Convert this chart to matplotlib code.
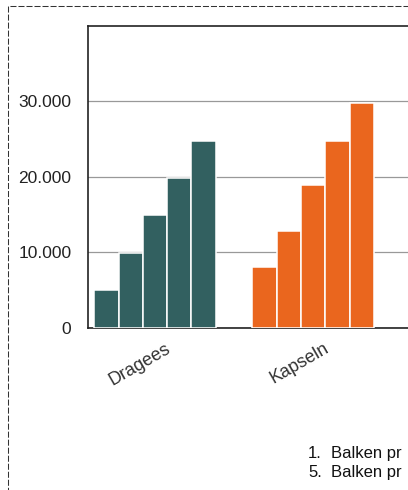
import numpy as np
import matplotlib
matplotlib.use('Agg')
from matplotlib import pyplot as plt
from matplotlib import patches
from matplotlib.ticker import FuncFormatter
from matplotlib.transforms import ScaledTranslation

plt.rcParams['font.family'] = ['Liberation Sans', 'DejaVu Sans']

#data
categories = ['Dragees', 'Kapseln']
dragees = [5000, 9900, 14900, 19900, 24800]
kapseln = [8000, 12800, 18900, 24800, 29800]
yticks = [0, 10000, 20000, 30000]
#footnotes, only the visible part (the reference is cropped at the right)
note_nums = ['1.', '5.']
note_texts = ['Balken pr', 'Balken pr']

colors = ['#326060', '#ea661e']

fig = plt.figure(figsize=(4.08, 4.9), dpi=100)
#axes run past the right edge of the picture (the reference is cropped)
ax = fig.add_axes([88/408, 162.5/490, 450/408, 301.5/490])

slot = 0.1535
for i, vals in enumerate([dragees, kapseln]):
    xs = i + (np.arange(len(vals)) - 2)*slot
    ax.bar(xs, vals, width=slot, color=colors[i], edgecolor='white',
           linewidth=1.1, zorder=3)

ax.set_xlim(-0.423, 2.42)
ax.set_ylim(0, 40000)
ax.set_yticks(yticks)
ax.yaxis.set_major_formatter(FuncFormatter(lambda v, p: f'{v:,.0f}'.replace(',', '.')))
ax.tick_params(axis='y', length=0, pad=12, labelsize=12.5, labelcolor='#222')

#gridlines
ax.grid(axis='y', color='#999999', linewidth=0.9, zorder=0)
ax.set_axisbelow(True)

for s in ['left', 'top', 'bottom']:
    ax.spines[s].set_color('#222')
    ax.spines[s].set_linewidth(1.2)
ax.spines['right'].set_visible(False)

#category labels, rotated
ax.set_xticks(range(len(categories)))
ax.set_xticklabels(categories, rotation=30, ha='right', va='top',
                   rotation_mode='anchor', fontsize=13, color='#333')
ax.tick_params(axis='x', length=0, pad=9)
off = ScaledTranslation(10/100, 0, fig.dpi_scale_trans)
for lab in ax.get_xticklabels():
    lab.set_transform(lab.get_transform() + off)

#footnotes at the bottom
for k, y in enumerate([453, 472]):
    fig.text(308/408, 1 - y/490, note_nums[k], fontsize=12, va='center', color='#111')
    fig.text(331/408, 1 - y/490, note_texts[k], fontsize=12, va='center', color='#111')

#dashed frame round the chart
frame = patches.Rectangle((7.5/408, -0.1), 2, (490 - 6.5)/490 + 0.1,
                          transform=fig.transFigure, fill=False,
                          linestyle=(0, (5.8, 1.9)), linewidth=0.75,
                          edgecolor='#333', clip_on=False)
fig.add_artist(frame)

plt.savefig('out.png', dpi=100)
